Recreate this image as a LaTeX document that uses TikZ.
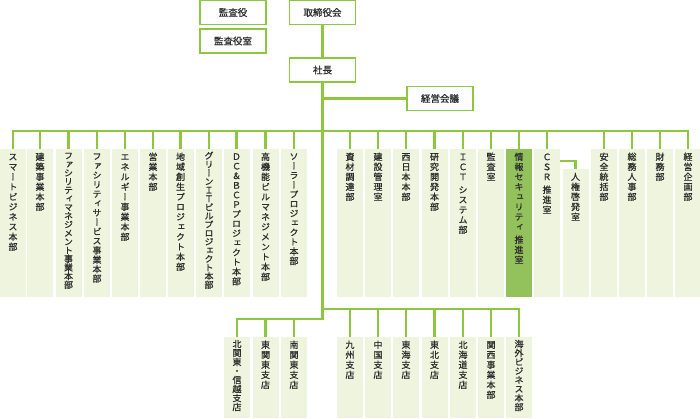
\documentclass[tikz,border=0pt]{standalone}
\usepackage{fontspec}
\setmainfont{Noto Sans CJK JP}[FakeBold=0.8]
\newfontfamily\jpv[RawFeature=+vert,FakeBold=0.8]{Noto Sans CJK JP}

\definecolor{orggreen}{RGB}{141,198,63}
\definecolor{boxfill}{RGB}{238,244,221}
\definecolor{hilite}{RGB}{147,193,92}
\definecolor{txtgray}{RGB}{45,45,45}

% vertical text, one character per cell
\newcommand\tsp{\vskip3pt}
\newdimen\tatep \tatep=10pt
\newdimen\tateh \tateh=148pt
\makeatletter
\def\tate@loop#1{\ifx#1\relax\else\tate@cell{#1}\expandafter\tate@loop\fi}
\def\tate@cell#1{\ifx#1\tsp\tsp\else\hbox to 10pt{\vrule width0pt height.8\tatep depth.2\tatep\hss\smash{#1}\hss}\fi}
\newcommand\tate[2][10]{\tatep=#1pt\vbox to\tateh{\offinterlineskip\jpv\vskip3pt\expandafter\tate@loop#2\relax\vss}}
\makeatother

\tikzset{
  conn/.style={draw=orggreen, line width=2.7pt},
  head/.style={draw=orggreen, line width=1.5pt, fill=white, minimum width=66pt, minimum height=24pt, inner sep=0pt, text=txtgray, font=\fontsize{9.5}{10}\selectfont},
  col/.style={fill=boxfill, minimum width=26pt, minimum height=148pt, inner sep=0pt, anchor=north, text=txtgray, font=\fontsize{9}{10}\selectfont, execute at begin node={\tateh=148pt}},
  colshort/.style={col, minimum height=128pt, execute at begin node={\tateh=128pt}},
  branch/.style={col, minimum height=81pt, execute at begin node={\tateh=81pt}},
}

\begin{document}
\begin{tikzpicture}[x=1pt,y=-1pt]
    \useasboundingbox (0,0) rectangle (700,418);

    % Vertice
    \node[head] (audit) at (233,12.5) {監査役};
    \node[head] (auditoff) at (233,41) {監査役室};
    \node[head] (board) at (322.5,12.5) {取締役会};
    \node[head] (ceo) at (322.5,70) {社長};
    \node[head] (meet) at (440,98.5) {経営会議};

    \coordinate (bar) at (322.5,131);
    \coordinate (rsplit) at (322.5,309);
    \coordinate (trunk) at (322.5,319);

    % Unita' (riga superiore)
    \foreach \x/\n/\p/\txt in {13/d1/10/スマートビジネス本部, 40/d2/10/建築事業本部,
        68.5/d3/8.6/ファシリティマネジメント事業本部, 97/d4/9.4/ファシリティサービス事業本部,
        125/d5/10/エネルギー事業本部, 153/d6/10/営業本部, 180.5/d7/10/地域創生プロジェクト本部,
        209/d8/8.6/グリーンＩＴビルプロジェクト本部, 236.5/d9/9.6/ＤＣ＆ＢＣＰプロジェクト本部,
        265.5/d10/10/高機能ビルマネジメント本部, 294/d11/9.5/ソーラープロジェクト本部,
        350/r1/10/資材調達部, 378/r2/10/建設管理室, 406/r3/10/西日本本部, 434.5/r4/10/研究開発本部,
        463/r5/10/ＩＣＴ\tsp システム部, 491/r6/10/監査室, 547/r8/10/ＣＳＲ\tsp 推進室,
        604/r10/10/安全統括部, 632/r11/10/総務人事部, 660/r12/10/財務部, 688/r13/10/経営企画部}
        \node[col] (\n) at (\x,149) {\tate[\p]{\txt}};
    \node[col, fill=hilite] (r7) at (519,149) {\tate{情報セキュリティ\tsp 推進室}};
    \node[colshort] (r9) at (575.5,169) {\tate{人権啓発室}};

    %支店 (riga inferiore)
    \foreach \x/\n/\p/\txt in {237/b1/9/北関東・信越支店, 265.5/b2/10/東関東支店, 294/b3/10/南関東支店,
        350/s1/10/九州支店, 378/s2/10/中国支店, 406/s3/10/東海支店, 434.5/s4/10/東北支店,
        463/s5/10/北海道支店, 491/s6/10/関西事業本部, 519/s7/9/海外ビジネス本部}
        \node[branch] (\n) at (\x,337) {\tate[\p]{\txt}};

    % Collegamenti
    \draw[conn] (board) -- (ceo);
    \draw[conn] (ceo.south |- meet.west) -- (meet.west);
    \draw[conn, line join=miter] (ceo.south) -- (trunk) -| (b1.north);
    \draw[conn, line join=miter] (d1.north) -- (d1.north |- bar) -- (r13.north |- bar) -- (r13.north);
    \foreach \n in {d2,d3,d4,d5,d6,d7,d8,d9,d10,d11,r1,r2,r3,r4,r5,r6,r7,r8,r10,r11,r12}
        \draw[conn] (\n.north |- bar) -- (\n.north);
    \draw[conn, line join=miter] ([yshift=-12pt]r8.north east) -| (r9.north);

    \draw[conn, line join=miter] (rsplit) -| (s7.north);
    \foreach \n in {b2,b3}
        \draw[conn] (\n.north |- trunk) -- (\n.north);
    \foreach \n in {s1,s2,s3,s4,s5,s6}
        \draw[conn] (\n.north |- rsplit) -- (\n.north);

\end{tikzpicture}
\end{document}
